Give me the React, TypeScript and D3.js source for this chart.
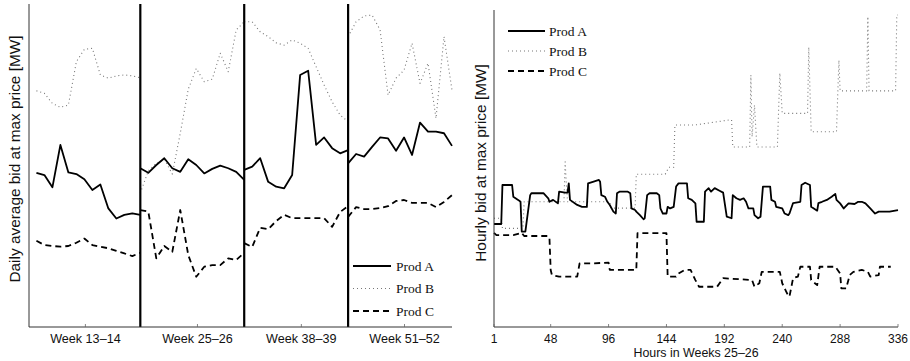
import React from "react";
import * as d3 from "d3";

// ---------- Left panel data (daily averages, 4 two-week blocks of 14 days) ----------
const WEEK_LABELS = ["Week 13–14", "Week 25–26", "Week 38–39", "Week 51–52"];
const WEEK_TICKS = [6.6, 21.7, 35.7, 49.6];
const BLOCK_BOUNDS = [14, 28, 42];

const dailyProdA = [
  [47.6, 46.9, 43.1, 56.2, 47.7, 47.2, 45.6, 42.3, 44.0, 36.6, 33.5, 34.6, 35.1, 34.6],
  [49.0, 47.6, 50.0, 52.1, 49.0, 47.9, 51.8, 50.0, 47.4, 48.8, 49.8, 49.0, 47.9, 45.4],
  [48.5, 49.5, 52.1, 44.8, 43.3, 42.8, 46.9, 77.8, 79.1, 56.2, 58.5, 55.2, 53.6, 54.6],
  [50.5, 53.4, 52.6, 55.6, 58.5, 58.2, 54.4, 58.5, 53.1, 63.1, 60.3, 60.3, 59.8, 55.9],
];
const dailyProdB = [
  [72.9, 72.1, 69.0, 67.8, 68.5, 81.9, 85.7, 86.0, 77.8, 76.8, 77.5, 77.8, 77.5, 76.9],
  [41.3, 48.2, 50.5, 51.8, 47.2, 59.8, 73.4, 79.8, 75.7, 76.5, 84.5, 78.8, 91.7, 94.2],
  [94.2, 94.2, 91.1, 89.6, 87.7, 87.0, 88.6, 87.6, 86.0, 80.3, 74.7, 69.5, 65.4, 63.4],
  [89.6, 94.2, 96.0, 96.3, 91.7, 71.6, 76.8, 79.3, 87.6, 75.2, 81.4, 64.4, 89.6, 73.1],
];
const dailyProdC = [
  [26.6, 25.3, 25.0, 24.8, 25.0, 26.0, 27.3, 25.3, 24.8, 24.3, 23.5, 22.7, 21.9, 22.9],
  [36.1, 35.6, 21.2, 25.0, 23.2, 36.1, 22.2, 15.5, 18.6, 19.1, 19.1, 21.2, 20.7, 22.9],
  [25.9, 24.7, 30.6, 30.2, 32.7, 34.6, 33.6, 33.6, 33.6, 33.6, 33.6, 30.9, 35.5, 37.3],
  [34.0, 37.0, 36.4, 36.4, 36.7, 37.3, 38.9, 39.2, 38.3, 38.3, 38.3, 37.0, 38.6, 40.7],
];

// ---------- Right panel data (hourly, weeks 25–26), [hour, value] ----------
const HOUR_TICKS = [1, 48, 96, 144, 192, 240, 288, 336];

const hourlyProdA: [number, number][] = [
  [1, 32.5], [7, 32.5], [8, 44.8], [16, 44.8], [17, 41.1], [21, 40.1], [23, 39.5], [24, 30.1], [27, 30.1],
  [31, 41.6], [32, 42.2], [42, 42.2], [46, 40.6], [47, 39.5], [50, 40.1], [54, 39.0], [55, 42.7], [60, 42.4],
  [62, 42.4], [63, 45.3], [64, 40.1], [70, 38.5], [74, 37.9], [78, 37.9], [79, 45.3], [83, 45.8], [88, 46.4],
  [89, 45.8], [90, 41.6], [93, 41.1], [95, 39.5], [97, 38.5], [100, 36.4], [102, 35.8], [103, 42.2], [105, 42.7],
  [112, 42.7], [114, 42.2], [115, 37.4], [118, 36.9], [119, 36.4], [122, 35.3], [125, 34.0], [126, 34.3],
  [128, 41.6], [130, 42.2], [136, 42.2], [138, 41.6], [139, 37.4], [141, 35.8], [144, 35.8], [145, 37.9],
  [147, 37.4], [150, 37.9], [152, 44.3], [154, 45.3], [161, 45.3], [162, 40.6], [165, 40.1], [168, 39.0],
  [169, 33.2], [175, 33.2], [176, 42.7], [179, 43.8], [181, 42.7], [184, 43.8], [188, 43.0], [191, 42.4],
  [194, 34.8], [198, 34.3], [199, 41.6], [202, 40.6], [205, 40.1], [208, 40.6], [210, 39.5], [212, 37.4],
  [216, 37.4], [217, 35.3], [220, 34.3], [222, 34.8], [224, 44.3], [230, 44.3], [231, 40.1], [234, 39.5],
  [235, 37.9], [240, 37.4], [242, 35.8], [245, 35.3], [246, 35.8], [249, 39.1], [255, 39.5], [256, 44.8],
  [259, 45.5], [263, 44.8], [264, 37.9], [269, 36.7], [270, 39.1], [273, 39.5], [277, 40.1], [281, 41.1],
  [284, 42.0], [285, 40.1], [288, 39.0], [291, 37.4], [295, 39.0], [300, 38.8], [303, 39.5], [306, 39.5],
  [309, 39.0], [313, 37.4], [317, 35.8], [320, 36.4], [329, 36.4], [336, 36.9],
];

const hourlyProdB: [number, number][] = [
  [1, 34.3], [7, 34.3], [8, 31.1], [25, 31.1], [26, 39.5], [59, 39.5], [60, 52.1], [61, 45.0], [62, 39.5],
  [97, 39.5], [98, 37.5], [118, 37.5], [119, 48.2], [143, 48.2], [146, 50.4], [150, 50.4], [151, 63.7],
  [167, 63.7], [196, 65.3], [198, 65.3], [199, 56.8], [213, 56.8], [214, 79.5], [215, 60.0], [217, 70.0],
  [219, 56.8], [236, 56.8], [238, 80.1], [240, 67.4], [261, 67.4], [262, 88.3], [264, 61.6], [285, 61.6],
  [287, 84.2], [288, 74.5], [310, 74.5], [311, 97.9], [312, 74.5], [334, 74.5], [335, 98.4], [336, 98.4],
];

const hourlyProdC: [number, number][] = [
  [1, 29.7], [3, 29.0], [17, 29.0], [24, 29.7], [26, 28.7], [46, 28.7], [47, 28.0], [48, 18.0], [49, 16.4],
  [55, 15.9], [70, 15.9], [72, 20.1], [84, 20.1], [96, 20.3], [97, 18.0], [119, 18.0], [120, 29.6],
  [144, 29.6], [145, 15.9], [152, 15.9], [154, 16.9], [159, 18.0], [164, 18.0], [168, 14.8], [171, 12.7],
  [186, 12.7], [191, 15.4], [215, 14.8], [217, 12.7], [221, 13.8], [223, 17.4], [238, 17.4], [240, 13.8],
  [244, 10.6], [246, 9.6], [249, 15.4], [253, 15.9], [255, 19.0], [263, 19.0], [264, 14.8], [269, 13.2],
  [271, 19.0], [284, 19.0], [288, 16.9], [289, 12.2], [293, 12.2], [296, 16.4], [299, 17.4], [306, 18.0],
  [311, 17.4], [313, 15.9], [320, 16.4], [321, 19.0], [330, 19.0],
];

const LEGEND = ["Prod A", "Prod B", "Prod C"];

const STYLES = [
  { stroke: "#000", width: 1.8, dash: undefined as string | undefined },
  { stroke: "#777", width: 1.1, dash: "1,3" },
  { stroke: "#000", width: 1.8, dash: "6,4" },
];

const SANS = "'Liberation Sans', Arial, Helvetica, sans-serif";
const SERIF = "'Liberation Serif', 'Times New Roman', serif";

export default function App() {
  // Left panel scales
  const xL = d3.scaleLinear().domain([-1, 56]).range([29, 452]);
  const yL = d3.scaleLinear().domain([0, 100]).range([327, 3]);
  // Right panel scales
  const xR = d3.scaleLinear().domain([1, 336]).range([494, 898]);
  const yR = d3.scaleLinear().domain([0, 100]).range([327, 10]);

  const dayPos = (block: number, j: number) => block * 14 + (j * 14) / 13;
  const lineL = d3
    .line<[number, number]>()
    .x((d) => xL(d[0]))
    .y((d) => yL(d[1]));
  const lineR = d3
    .line<[number, number]>()
    .x((d) => xR(d[0]))
    .y((d) => yR(d[1]));

  const dailySeries = [dailyProdA, dailyProdB, dailyProdC];
  const hourlySeries = [hourlyProdA, hourlyProdB, hourlyProdC];

  const leftBottom = yL(0);
  const rightBottom = yR(0);

  return (
    <svg
      width={910}
      height={361}
      style={{ position: "absolute", left: 0, top: 0, background: "#fff" }}
    >
      <rect x={0} y={0} width={910} height={361} fill="#fff" />

      {/* ================= LEFT PANEL ================= */}
      {/* series (draw B first so solid lines stay on top) */}
      {[1, 2, 0].map((si) =>
        dailySeries[si].map((block, b) => (
          <path
            key={`d-${si}-${b}`}
            d={lineL(block.map((v, j) => [dayPos(b, j), v] as [number, number])) || ""}
            fill="none"
            stroke={STYLES[si].stroke}
            strokeWidth={STYLES[si].width}
            strokeDasharray={STYLES[si].dash}
            strokeLinejoin="round"
          />
        ))
      )}

      {/* block separators */}
      {BLOCK_BOUNDS.map((b) => (
        <line
          key={`sep-${b}`}
          x1={xL(b)}
          x2={xL(b)}
          y1={yL(100) + 1}
          y2={leftBottom}
          stroke="#000"
          strokeWidth={2.2}
        />
      ))}

      {/* axes */}
      <line x1={xL(-1)} x2={xL(-1)} y1={yL(100) + 1} y2={leftBottom} stroke="#333" strokeWidth={1} />
      <line x1={xL(-1)} x2={xL(56)} y1={leftBottom} y2={leftBottom} stroke="#333" strokeWidth={1} />
      {WEEK_TICKS.map((t, i) => (
        <g key={`wt-${i}`}>
          <line x1={xL(t)} x2={xL(t)} y1={leftBottom} y2={leftBottom - 3} stroke="#666" strokeWidth={0.8} />
          <text
            x={xL(t)}
            y={leftBottom + 16}
            textAnchor="middle"
            fontFamily={SANS}
            fontSize={12.6}
            fill="#111"
          >
            {WEEK_LABELS[i]}
          </text>
        </g>
      ))}
      <text
        transform={`translate(14,159) rotate(-90)`}
        textAnchor="middle"
        dominantBaseline="central"
        fontFamily={SANS}
        fontSize={15.4}
        fill="#111"
      >
        Daily average bid at max price [MW]
      </text>

      {/* left legend */}
      {LEGEND.map((name, i) => {
        const y = 266 + i * 22.5;
        return (
          <g key={`ll-${i}`}>
            <line
              x1={353}
              x2={391}
              y1={y}
              y2={y}
              stroke={STYLES[i].stroke}
              strokeWidth={STYLES[i].width}
              strokeDasharray={STYLES[i].dash}
            />
            <text x={396} y={y + 4.5} fontFamily={SERIF} fontSize={13.5} fill="#111">
              {name}
            </text>
          </g>
        );
      })}

      {/* ================= RIGHT PANEL ================= */}
      {[1, 2, 0].map((si) => (
        <path
          key={`h-${si}`}
          d={lineR(hourlySeries[si]) || ""}
          fill="none"
          stroke={STYLES[si].stroke}
          strokeWidth={STYLES[si].width}
          strokeDasharray={STYLES[si].dash}
          strokeLinejoin="round"
        />
      ))}

      <line x1={xR(1)} x2={xR(1)} y1={yR(100)} y2={rightBottom} stroke="#333" strokeWidth={1} />
      <line x1={xR(1)} x2={xR(336)} y1={rightBottom} y2={rightBottom} stroke="#333" strokeWidth={1} />
      {HOUR_TICKS.map((t) => (
        <g key={`ht-${t}`}>
          <line x1={xR(t)} x2={xR(t)} y1={rightBottom} y2={rightBottom - 3} stroke="#666" strokeWidth={0.8} />
          <text
            x={xR(t)}
            y={rightBottom + 16}
            textAnchor="middle"
            fontFamily={SANS}
            fontSize={12}
            fill="#111"
          >
            {t}
          </text>
        </g>
      ))}
      <text
        x={(xR(1) + xR(336)) / 2}
        y={rightBottom + 30}
        textAnchor="middle"
        fontFamily={SANS}
        fontSize={12.4}
        fill="#111"
      >
        Hours in Weeks 25–26
      </text>
      <text
        transform={`translate(480,163) rotate(-90)`}
        textAnchor="middle"
        dominantBaseline="central"
        fontFamily={SANS}
        fontSize={15.4}
        fill="#111"
      >
        Hourly bid at max price [MW]
      </text>

      {/* right legend */}
      {LEGEND.map((name, i) => {
        const y = 31 + i * 20;
        return (
          <g key={`rl-${i}`}>
            <line
              x1={508}
              x2={545}
              y1={y}
              y2={y}
              stroke={STYLES[i].stroke}
              strokeWidth={STYLES[i].width}
              strokeDasharray={STYLES[i].dash}
            />
            <text x={549} y={y + 4.5} fontFamily={SERIF} fontSize={13.5} fill="#111">
              {name}
            </text>
          </g>
        );
      })}
    </svg>
  );
}
